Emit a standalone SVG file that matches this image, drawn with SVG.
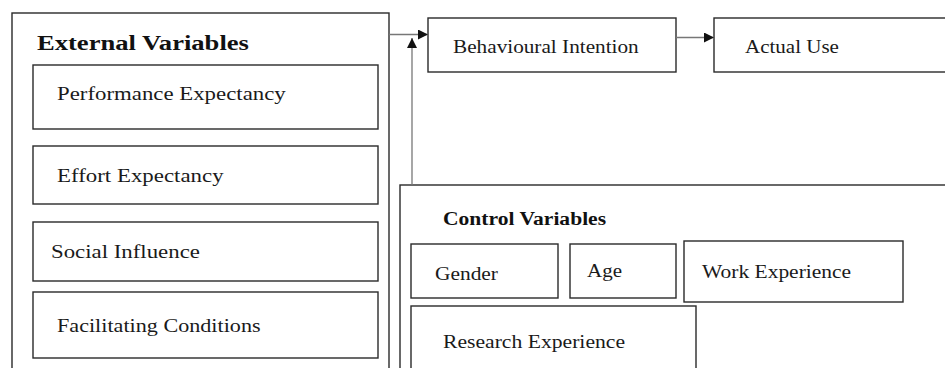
<svg xmlns="http://www.w3.org/2000/svg" width="945" height="368" viewBox="0 0 945 368">
<style>
.box{fill:#fff;stroke:#2a2a2a;stroke-width:1.4}
.t{font-family:"Liberation Serif","Times New Roman",serif;font-size:19.5px;fill:#1a1a1a}
.h{font-family:"Liberation Serif","Times New Roman",serif;font-weight:bold;fill:#111}
.c{stroke:#777;stroke-width:1.3;fill:none}
</style>
<defs>
<marker id="ah" viewBox="0 0 10 10" refX="10" refY="5" markerWidth="10" markerHeight="10" markerUnits="userSpaceOnUse" orient="auto">
<path d="M0,0 L10,5 L0,10 z" fill="#111"/>
</marker>
</defs>
<rect width="945" height="368" fill="#fff"/>
<g id="external">
<rect class="box" x="12" y="13" width="377" height="370"/>
<text class="h" font-size="22" transform="translate(37,50) scale(1.209,1)">External Variables</text>
</g>
<g id="performance">
<rect class="box" x="33" y="65" width="345" height="64"/>
<text class="t" transform="translate(57,100) scale(1.171,1)">Performance Expectancy</text>
</g>
<g id="effort">
<rect class="box" x="33" y="146" width="345" height="58"/>
<text class="t" transform="translate(57,182) scale(1.173,1)">Effort Expectancy</text>
</g>
<g id="social">
<rect class="box" x="33" y="222" width="345" height="59"/>
<text class="t" transform="translate(51,258) scale(1.171,1)">Social Influence</text>
</g>
<g id="facilitating">
<rect class="box" x="33" y="292" width="345" height="66"/>
<text class="t" transform="translate(57,332) scale(1.136,1)">Facilitating Conditions</text>
</g>
<g id="intention">
<rect class="box" x="428" y="18" width="248" height="54"/>
<text class="t" transform="translate(453,53) scale(1.09,1)">Behavioural Intention</text>
</g>
<g id="actual">
<rect class="box" x="714" y="18" width="260" height="54"/>
<text class="t" transform="translate(745,53) scale(1.078,1)">Actual Use</text>
</g>
<g id="control">
<rect class="box" x="400" y="185" width="560" height="200"/>
<text class="h" font-size="19" transform="translate(443,225) scale(1.135,1)">Control Variables</text>
</g>
<g id="gender">
<rect class="box" x="411" y="244" width="147" height="54"/>
<text class="t" transform="translate(435,280) scale(1.098,1)">Gender</text>
</g>
<g id="age">
<rect class="box" x="570" y="244" width="106" height="54"/>
<text class="t" transform="translate(587,277) scale(1.077,1)">Age</text>
</g>
<g id="work">
<rect class="box" x="684" y="241" width="219" height="61"/>
<text class="t" transform="translate(702,278) scale(1.102,1)">Work Experience</text>
</g>
<g id="research">
<rect class="box" x="411" y="306" width="285" height="80"/>
<text class="t" transform="translate(443,348) scale(1.11,1)">Research Experience</text>
</g>
<g id="connectors">
<line class="c" x1="389" y1="34.5" x2="428" y2="34.5" marker-end="url(#ah)"/>
<line class="c" x1="412" y1="185" x2="412" y2="38" marker-end="url(#ah)"/>
<line class="c" x1="676" y1="37.5" x2="714" y2="37.5" marker-end="url(#ah)"/>
</g>
</svg>
